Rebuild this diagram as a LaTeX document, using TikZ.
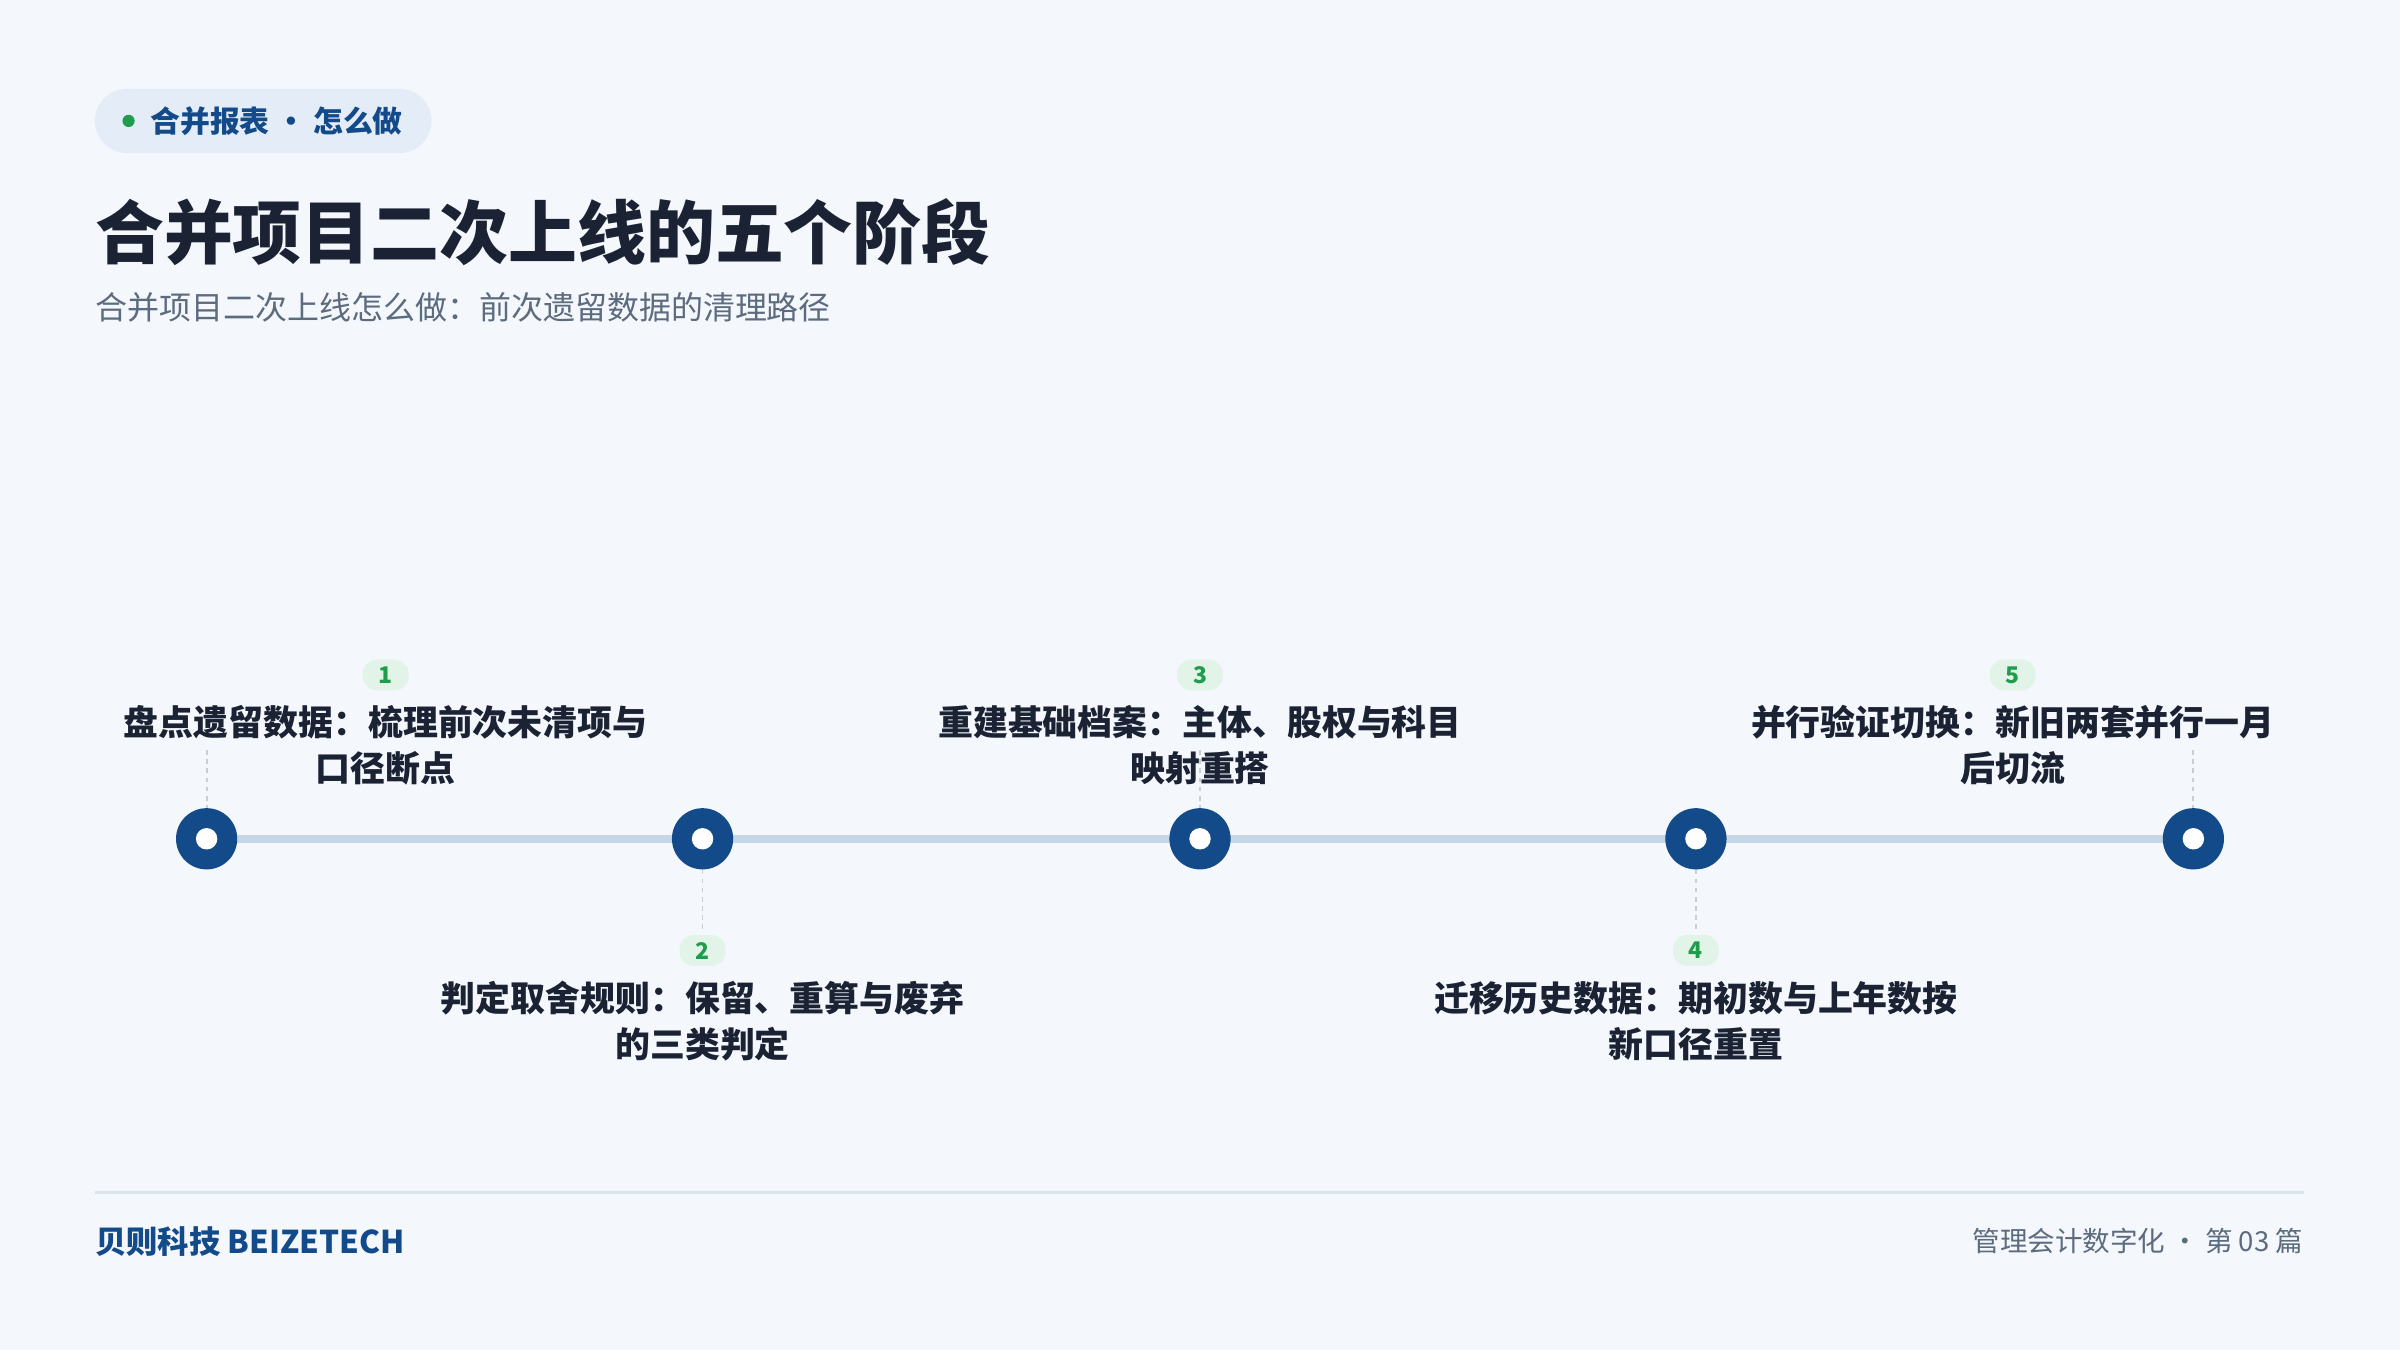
\documentclass[tikz,border=0pt]{standalone}
\usepackage{fontspec}
\setmainfont{Noto Sans CJK SC}
\usetikzlibrary{positioning}
\definecolor{bgcol}{HTML}{F4F7FC}
\definecolor{navy}{HTML}{124A8A}
\definecolor{ink}{HTML}{1A2233}
\definecolor{greytxt}{HTML}{5C6B7E}
\definecolor{track}{HTML}{C6D6E6}
\definecolor{pillcol}{HTML}{E4EDF7}
\definecolor{badgecol}{HTML}{E2F4E7}
\definecolor{greencol}{HTML}{1F9D4C}
\definecolor{rulecol}{HTML}{DCE2EA}
\tikzset{
  stage/.style={circle,fill=navy,minimum size=40pt,inner sep=0pt},
  hole/.style={circle,fill=white,minimum size=14pt,inner sep=0pt},
  badge/.style={rounded corners=9pt,fill=badgecol,text=greencol,font=\fontsize{15}{15}\selectfont\bfseries,minimum width=30pt,minimum height=20pt,inner sep=0pt},
  label/.style={align=center,text=ink,font=\fontsize{22.8}{30}\selectfont\bfseries,inner sep=0pt},
  tick/.style={draw=rulecol!80!gray,line width=1.2pt,dash pattern=on 3pt off 3pt}
}
\begin{document}
\begin{tikzpicture}[x=1pt,y=-1pt]
\fill[bgcol] (0,0) rectangle (1568,882);
\useasboundingbox (0,0) rectangle (1568,882);
% header
\fill[pillcol,rounded corners=21pt] (62,58) rectangle (282,100);
\fill[greencol] (84,79) circle (4pt);
\node[anchor=west,text=navy,font=\fontsize{19.5}{19.5}\selectfont\bfseries,inner sep=0pt] (pill) at (98,79) {合并报表 · 怎么做};
\node[anchor=west,text=ink,font=\fontsize{45}{45}\selectfont\bfseries,inner sep=0pt] (title) at (62,152) {合并项目二次上线的五个阶段};
\node[anchor=west,text=greytxt,font=\fontsize{20.9}{21}\selectfont,inner sep=0pt] (sub) at (62,201) {合并项目二次上线怎么做：前次遗留数据的清理路径};
% timeline
\draw[track,line width=5pt] (135,548) -- (1433,548);
\foreach \i/\x/\up/\la/\lb in {
  1/135/1/盘点遗留数据：梳理前次未清项与/口径断点,
  2/459/0/判定取舍规则：保留、重算与废弃/的三类判定,
  3/784/1/重建基础档案：主体、股权与科目/映射重搭,
  4/1108/0/迁移历史数据：期初数与上年数按/新口径重置,
  5/1433/1/并行验证切换：新旧两套并行一月/后切流}{
  \ifnum\up=1
    \draw[tick] (\x,490) -- (\x,528);
    \node[badge] (b\i) at ({\x+(\i==1)*117+(\i==5)*(-118)},441) {\i};
    \node[label] (t\i) at ({\x+(\i==1)*117+(\i==5)*(-118)},487) {\la\\\lb};
  \else
    \draw[tick] (\x,568) -- (\x,608);
    \node[badge] (b\i) at (\x,621) {\i};
    \node[label] (t\i) at (\x,667) {\la\\\lb};
  \fi
  \node[stage] (s\i) at (\x,548) {};
  \node[hole] at (s\i) {};
}
% footer
\draw[rulecol,line width=1.5pt] (62,779) -- (1505,779);
\node[anchor=west,text=navy,font=\fontsize{20.5}{20.5}\selectfont\bfseries,inner sep=0pt] (brand) at (62,811) {贝则科技 BEIZETECH};
\node[anchor=east,text=greytxt,font=\fontsize{18}{18}\selectfont,inner sep=0pt] (page) at (1505,811) {管理会计数字化 · 第 03 篇};
\end{tikzpicture}
\end{document}
